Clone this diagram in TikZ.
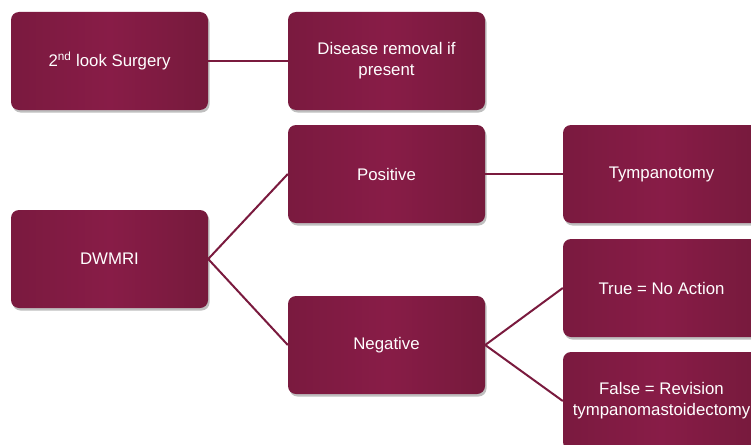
\documentclass[tikz,border=0pt]{standalone}
\usepackage{fontspec}
\setmainfont{Liberation Sans}
\usetikzlibrary{shadows}
\definecolor{maroonL}{HTML}{7A1A3F}
\definecolor{maroonM}{HTML}{881C47}
\definecolor{maroonR}{HTML}{761A3C}
\definecolor{linec}{HTML}{7A1A3E}
\tikzset{
  box/.style={rectangle, rounded corners=8pt, minimum width=197pt, minimum height=98pt,
    left color=maroonL, right color=maroonR, middle color=maroonM,
    text=white, font=\fontsize{16.8}{21}\selectfont, align=center, inner sep=2pt,
    drop shadow={shadow xshift=1.5pt, shadow yshift=-2.5pt, fill=black!45, opacity=.55}},
  conn/.style={draw=linec, line width=2pt}
}
\begin{document}
\begin{tikzpicture}[x=1pt,y=-1pt]
\clip (0,0) rectangle (751,444);
\fill[white] (0,0) rectangle (751,444);
\node[box] (surg) at (109.5,61) {2\textsuperscript{nd} look Surgery};
\node[box] (remov) at (386.5,61) {Disease removal if\\present};
\node[box] (dwmri) at (109.5,259) {DWMRI};
\node[box] (pos) at (386.5,174) {Positive};
\node[box] (neg) at (386.5,345) {Negative};
\node[box] (tymp) at (661.5,174) {Tympanotomy};
\node[box] (true) at (661.5,288) {True = No Action};
\node[box] (false) at (661.5,401) {False = Revision\\tympanomastoidectomy};
\draw[conn] (surg.east) -- (remov.west);
\draw[conn] (dwmri.east) -- (pos.west);
\draw[conn] (dwmri.east) -- (neg.west);
\draw[conn] (pos.east) -- (tymp.west);
\draw[conn] (neg.east) -- (true.west);
\draw[conn] (neg.east) -- (false.west);
\end{tikzpicture}
\end{document}
